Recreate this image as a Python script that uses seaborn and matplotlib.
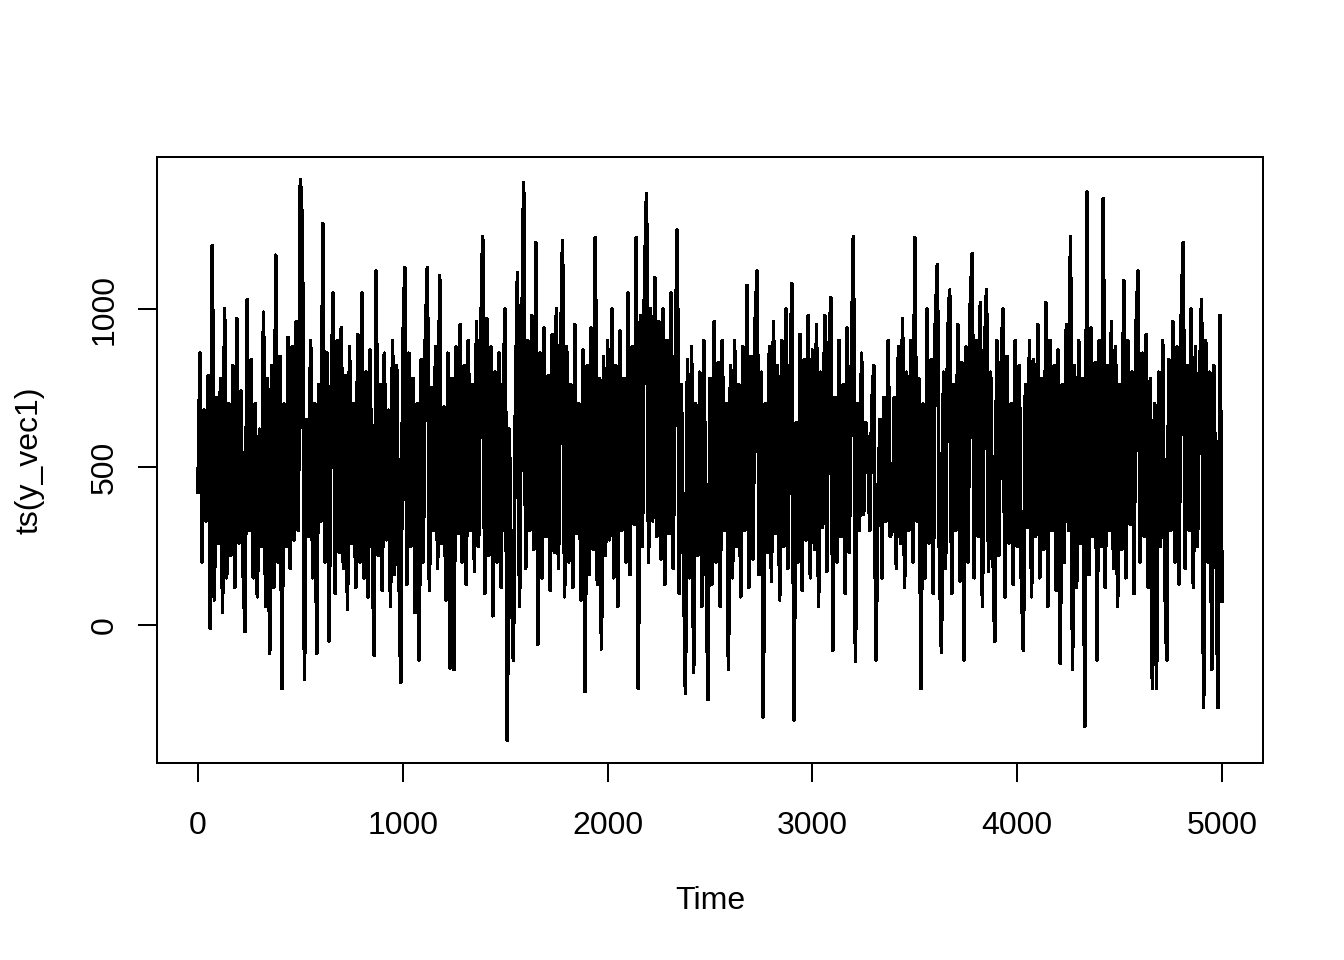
import matplotlib
matplotlib.use("Agg")
import matplotlib.pyplot as plt
import seaborn as sns
import numpy as np
import pandas as pd

# time axis: one reading every 10 steps, 0 .. 5000
time_step = 10
time_index = list(range(0, 5001, time_step))

# values (approximate, one per 10 time units)
y_vec1 = [
    # 0 - 190
    420, 860, 200, 680, 330, 790, -10, 1200, 80, 720,
    260, 780, 40, 1000, 150, 700, 220, 820, 120, 970,
    # 200 - 390
    260, 740, 180, -20, 1030, 300, 840, 150, 700, 90,
    620, 250, 990, 60, 780, -90, 820, 120, 1170, 200,
    # 400 - 590
    850, -200, 700, 250, 910, 180, 880, 270, 960, 300,
    1410, 1260, -170, 650, 280, 900, 150, 700, -90, 760,
    # 600 - 790
    330, 1270, 200, 860, -50, 720, 1050, 100, 900, 230,
    940, 180, 790, 50, 880, 260, 700, 120, 920, 200,
    # 800 - 990
    1050, 150, 800, 90, 870, 300, -95, 1120, 220, 760,
    110, 860, 270, 680, 60, 900, 160, 820, 240, -180,
    # 1000 - 1190
    870, 1130, 130, 860, 250, 780, 40, 700, -110, 840,
    200, 900, 1130, 110, 750, 300, 880, 180, 1105, 260,
    # 1200 - 1390
    690, 80, 860, -135, 780, -140, 880, 290, 950, 200,
    820, 130, 900, 300, 760, 170, 960, 250, 880, 1230,
    # 1400 - 1590
    100, 970, 220, 880, 30, 800, 200, 860, 120, 740,
    1000, -365, 620, 150, -110, 700, 1115, 60, 820, 1400,
    # 1600 - 1790
    180, 900, 300, 980, 240, 1210, -60, 860, 150, 940,
    280, 790, 110, 920, 230, 1000, 180, 830, 1215, 90,
    # 1800 - 1990
    880, 200, 760, 120, 950, 290, 700, 80, 870, -210,
    820, 160, 940, 240, 1225, 130, 780, -75, 850, 220,
    # 2000 - 2190
    900, 270, 1000, 150, 820, 60, 930, 300, 780, 200,
    1050, 160, 880, 320, 1225, -200, 980, 250, 1080, 1365,
    # 2200 - 2390
    200, 1000, 330, 1100, 280, 960, 210, 1000, 130, 900,
    290, 1050, 180, 820, 1250, 100, 760, 240, -215, 840,
    # 2400 - 2590
    150, 880, -150, 700, 220, 800, 60, 900, 260, -235,
    780, 130, 960, 200, 830, 60, 900, 300, 700, -140,
    # 2600 - 2790
    820, 150, 900, 250, 760, 90, 880, 300, 1075, 120,
    850, 210, 950, 1120, 160, 800, -290, 700, 230, 880,
    # 2800 - 2990
    140, 960, 290, 820, 80, 900, 250, 1000, 180, 750,
    1080, -300, 640, 200, 920, 110, 840, 270, 980, 150,
    # 3000 - 3190
    870, 240, 950, 60, 800, 310, 980, 170, 850, 1035,
    -80, 720, 200, 900, 280, 760, 100, 940, 230, 820,
    # 3200 - 3390
    1230, -115, 700, 300, 860, 350, 640, 560, 300, 700,
    820, -110, 380, 650, 150, 720, 330, 900, 280, 300,
    # 3400 - 3590
    720, 180, 880, 260, 970, 120, 800, 300, 900, 200,
    1225, 330, 780, -200, 700, 150, 1000, 260, 840, 100,
    # 3600 - 3790
    950, 1140, 220, -85, 800, 180, 900, 1060, 100, 760,
    300, 950, 140, 830, -110, 880, 200, 1000, 1175, 150,
    # 3800 - 3990
    900, 280, 1020, 60, 860, 1060, 170, 800, 300, -50,
    900, 220, 780, 1000, 90, 850, 260, 700, 130, 900,
    # 4000 - 4190
    250, 820, 150, -80, 760, 310, 900, 90, 840, 280,
    950, 150, 780, 240, 1020, 60, 900, 300, 820, 110,
    # 4200 - 4390
    870, -120, 760, 200, 950, 300, 1230, -140, 820, 120,
    900, 260, 780, -320, 1370, 160, 940, 280, 830, -110,
    # 4400 - 4590
    900, 250, 1350, 120, 820, 300, 960, 180, 880, 60,
    760, 240, 1090, 150, 900, 320, 800, 100, 940, 1120,
    # 4600 - 4790
    200, 860, 280, 920, 120, 780, -200, 700, -200, 800,
    250, 900, 160, -110, 840, 300, 960, 200, 880, 130,
    # 4800 - 4990
    950, 1210, 180, 820, 300, 1000, 120, 880, 250, 760,
    1030, -260, 900, 200, 800, -140, 820, 300, -260, 980,
    # 5000
    75,
]

x_ticks = [0, 1000, 2000, 3000, 4000, 5000]
y_ticks = [0, 500, 1000]

df = pd.DataFrame({"Time": time_index, "value": y_vec1})

sns.set_theme(style="white")
plt.rcParams["font.family"] = ["Liberation Sans", "DejaVu Sans"]
plt.rcParams["font.size"] = 12

fig = plt.figure(figsize=(7, 5), dpi=192)
ax = fig.add_axes([157 / 1344, 1 - 763 / 960, (1263 - 157) / 1344, (763 - 157) / 960])

sns.lineplot(data=df, x="Time", y="value", ax=ax, color="black",
             linewidth=1.0, estimator=None, sort=False, antialiased=False)

# R style 4% padding on both axes
xr = df["Time"].max() - df["Time"].min()
ax.set_xlim(df["Time"].min() - 0.04 * xr, df["Time"].max() + 0.04 * xr)
yr = df["value"].max() - df["value"].min()
ax.set_ylim(df["value"].min() - 0.04 * yr, df["value"].max() + 0.04 * yr)

ax.set_xticks(x_ticks)
ax.set_xticklabels([str(t) for t in x_ticks], fontsize=12)
ax.set_yticks(y_ticks)
ax.set_yticklabels([str(t) for t in y_ticks], fontsize=12, rotation=90, va="center")

for side in ["top", "bottom", "left", "right"]:
    ax.spines[side].set_visible(True)
    ax.spines[side].set_color("black")
    ax.spines[side].set_linewidth(0.75)

ax.tick_params(axis="both", direction="out", length=7.1, width=0.75,
               colors="black", labelcolor="black")
ax.tick_params(axis="x", pad=11)
ax.tick_params(axis="y", pad=7)
ax.tick_params(bottom=True, left=True)

ax.set_xlabel("Time", fontsize=12, color="black")
ax.set_ylabel("ts(y_vec1)", fontsize=12, color="black")
ax.xaxis.set_label_coords(0.5, (763 - 901) / 606)
ax.xaxis.label.set_va("center")
ax.yaxis.set_label_coords((30 - 157) / 1106, 0.5)
ax.yaxis.label.set_va("center")
ax.yaxis.label.set_ha("center")

fig.savefig("out.png", dpi=192, facecolor="white")
plt.close(fig)
